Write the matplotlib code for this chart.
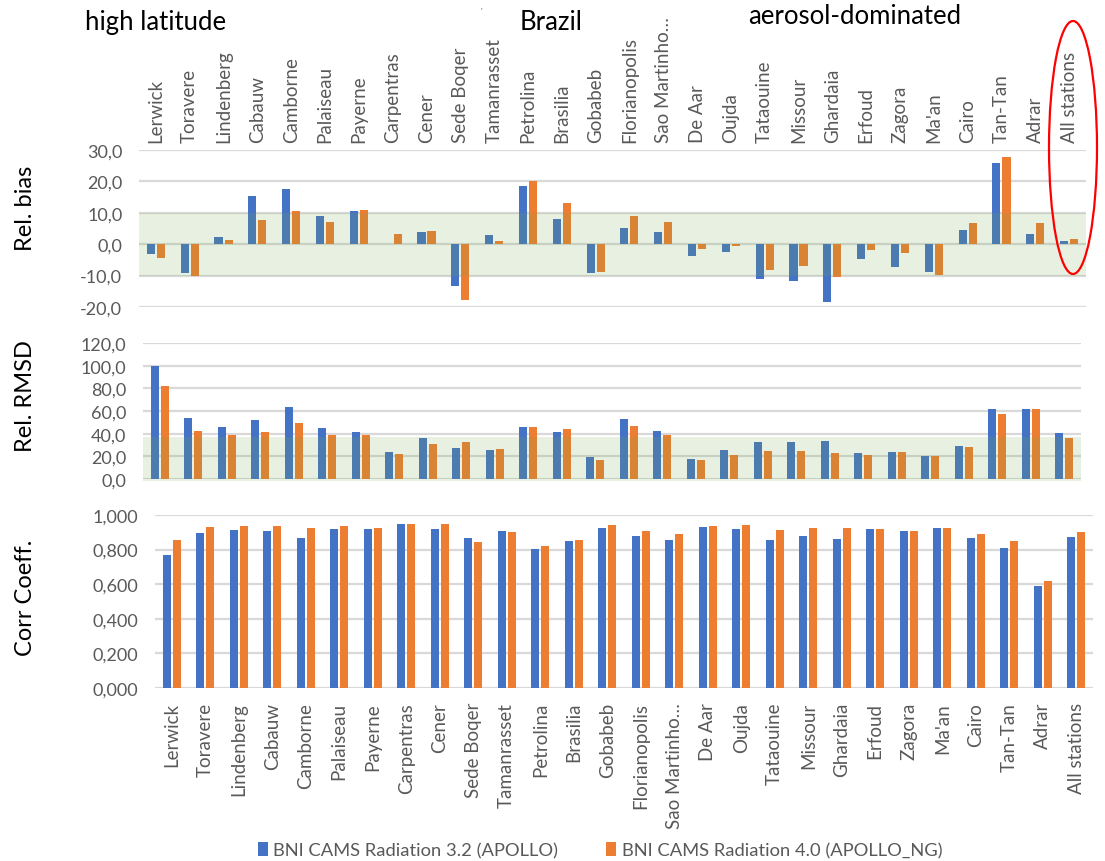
import matplotlib
matplotlib.use("Agg")
import matplotlib.pyplot as plt
from matplotlib.patches import Patch, Ellipse
from matplotlib.ticker import FuncFormatter
import numpy as np

plt.rcParams['font.family'] = ['Lato', 'DejaVu Sans']

stations = ["Lerwick", "Toravere", "Lindenberg", "Cabauw", "Camborne", "Palaiseau",
            "Payerne", "Carpentras", "Cener", "Sede Boqer", "Tamanrasset", "Petrolina",
            "Brasilia", "Gobabeb", "Florianopolis", "Sao Martinho…", "De Aar", "Oujda",
            "Tataouine", "Missour", "Ghardaia", "Erfoud", "Zagora", "Ma'an", "Cairo",
            "Tan-Tan", "Adrar", "All stations"]

bias_v32 = [-3.0, -9.1, 2.2, 15.5, 17.6, 9.0, 10.6, 0.0, 4.0, -13.4, 2.8, 18.5,
            8.1, -9.1, 5.2, 4.0, -3.8, -2.4, -11.1, -11.6, -18.3, -4.7, -7.2, -9.0,
            4.4, 25.9, 3.3, 1.1]
bias_v40 = [-4.5, -10.0, 1.3, 7.7, 10.7, 7.0, 11.0, 3.2, 4.3, -17.8, 1.0, 20.2,
            13.2, -9.0, 9.0, 7.0, -1.6, -0.6, -8.3, -6.8, -10.4, -1.8, -2.9, -9.9,
            6.6, 27.7, 6.6, 1.8]

rmsd_v32 = [100.0, 53.8, 46.2, 51.8, 63.8, 45.0, 41.5, 23.5, 35.9, 27.0, 25.9, 46.2,
            41.2, 19.1, 52.9, 42.6, 17.9, 25.9, 32.4, 32.4, 33.8, 22.6, 23.5, 20.3,
            29.4, 61.8, 61.8, 40.3]
rmsd_v40 = [82.4, 42.6, 39.1, 41.2, 49.4, 39.1, 39.1, 22.0, 31.2, 32.4, 26.8, 46.2,
            44.1, 16.8, 47.0, 39.1, 16.8, 21.5, 24.4, 24.4, 23.2, 21.5, 23.5, 20.3,
            28.2, 57.1, 61.8, 36.2]

corr_v32 = [0.769, 0.894, 0.912, 0.906, 0.869, 0.919, 0.919, 0.946, 0.919, 0.869,
            0.906, 0.804, 0.848, 0.923, 0.881, 0.854, 0.931, 0.919, 0.854, 0.881,
            0.862, 0.919, 0.906, 0.923, 0.867, 0.810, 0.592, 0.873]
corr_v40 = [0.854, 0.931, 0.938, 0.938, 0.923, 0.938, 0.923, 0.950, 0.946, 0.842,
            0.900, 0.821, 0.854, 0.944, 0.906, 0.888, 0.938, 0.944, 0.912, 0.923,
            0.923, 0.919, 0.906, 0.923, 0.888, 0.850, 0.619, 0.900]

series_names = ["BNI CAMS Radiation 3.2 (APOLLO)", "BNI CAMS Radiation 4.0 (APOLLO_NG)"]

BLUE = "#4472C4"
ORANGE = "#ED7D31"
GRID = "#D9D9D9"
TICK = "#595959"
BAND = "#70AD47"

W, H = 1105, 862
fig = plt.figure(figsize=(W / 100, H / 100), dpi=100)


def px_axes(x0, y0, x1, y1):
    return fig.add_axes([x0 / W, 1 - y1 / H, (x1 - x0) / W, (y1 - y0) / H])


x = np.arange(len(stations))
bw = 0.24
off = 0.148


def style(ax, ylim, ticks, fmt):
    ax.set_xlim(-0.5, len(stations) - 0.5)
    ax.set_ylim(*ylim)
    ax.set_yticks(ticks)
    ax.yaxis.set_major_formatter(FuncFormatter(fmt))
    for s in ax.spines.values():
        s.set_visible(False)
    ax.grid(axis='y', color=GRID, linewidth=1.6, zorder=0)
    ax.set_axisbelow(True)
    ax.tick_params(axis='y', length=0, pad=12, labelsize=13, labelcolor=TICK)
    ax.tick_params(axis='x', length=0)


def draw(ax, a, b):
    ax.bar(x - off, a, bw, color=BLUE, zorder=2)
    ax.bar(x + off, b, bw, color=ORANGE, zorder=2)


# Relative bias
ax1 = px_axes(139, 151, 1086, 308)
draw(ax1, bias_v32, bias_v40)
style(ax1, (-20, 30), [-20, -10, 0, 10, 20, 30],
      lambda v, p: f"{v:.1f}".replace(".", ","))
ax1.axhspan(-10, 10, color=BAND, alpha=0.16, lw=0, zorder=3)
ax1.xaxis.tick_top()
ax1.set_xticks(x)
ax1.set_xticklabels(stations, rotation=90, fontsize=13.5, color=TICK)
ax1.tick_params(axis='x', pad=6)

# Relative RMSD
ax2 = px_axes(143, 344, 1081, 480)
draw(ax2, rmsd_v32, rmsd_v40)
style(ax2, (0, 120), [0, 20, 40, 60, 80, 100, 120],
      lambda v, p: f"{v:.1f}".replace(".", ","))
ax2.axhspan(-1.5, 37, color=BAND, alpha=0.16, lw=0, zorder=3, clip_on=False)
ax2.set_xticks([])

# Correlation coefficient
ax3 = px_axes(155, 516, 1093, 689)
draw(ax3, corr_v32, corr_v40)
style(ax3, (0, 1.0), [0, 0.2, 0.4, 0.6, 0.8, 1.0],
      lambda v, p: f"{v:.3f}".replace(".", ","))
ax3.set_xticks(x)
ax3.set_xticklabels(stations, rotation=90, fontsize=13.5, color=TICK)
ax3.tick_params(axis='x', pad=10)

# Panel titles on the left
for label, yc in [("Rel. bias", 208), ("Rel. RMSD", 396), ("Corr Coeff.", 598)]:
    fig.text(26 / W, 1 - yc / H, label, rotation=90, ha='center', va='center',
             fontsize=17, color='black')

# Region annotations along the top
fig.text(85 / W, 1 - 30 / H, "high latitude", ha='left', va='baseline',
         fontsize=18.5, color='black')
fig.text(551 / W, 1 - 30 / H, "Brazil", ha='center', va='baseline',
         fontsize=18.5, color='black')
fig.text(855 / W, 1 - 24 / H, "aerosol-dominated", ha='center', va='baseline',
         fontsize=18.5, color='black')
fig.text(481 / W, 1 - 12 / H, "'", ha='center', va='center', fontsize=6, color='#555555')

# Highlight around the all-stations column
fig.patches.append(Ellipse((1073 / W, 1 - 148.5 / H), 48 / W, 253 / H,
                           transform=fig.transFigure, fill=False,
                           edgecolor='#FF0000', linewidth=1.6))

# Legend
handles = [Patch(facecolor=BLUE), Patch(facecolor=ORANGE)]
fig.legend(handles, series_names, loc='center', bbox_to_anchor=(600 / W, 1 - 851 / H),
           ncol=2, frameon=False, fontsize=13.2, labelcolor=TICK,
           handlelength=0.55, handleheight=0.8, handletextpad=0.3,
           columnspacing=2.6, borderpad=0)

fig.savefig("out.png", dpi=100)
